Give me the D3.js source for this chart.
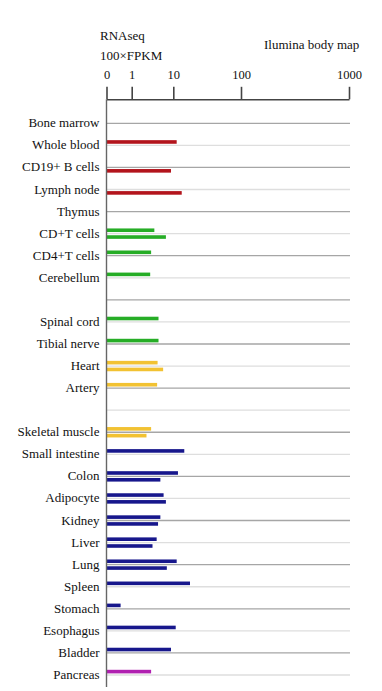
<!DOCTYPE html>
<html><head><meta charset="utf-8">
<script src="https://cdn.jsdelivr.net/npm/d3@7"></script>
<style>body{margin:0;background:#fff}svg{display:block}svg text{font-family:"Liberation Serif","Times New Roman",Times,serif}</style>
</head><body>
<script>
const tissues = ["Bone marrow","Whole blood","CD19+ B cells","Lymph node","Thymus","CD+T cells","CD4+T cells","Cerebellum","",
  "Spinal cord","Tibial nerve","Heart","Artery","","Skeletal muscle","Small intestine","Colon","Adipocyte","Kidney",
  "Liver","Lung","Spleen","Stomach","Esophagus","Bladder","Pancreas"];
// upper bar of each row (above the gridline)
const valuesA = [null,14.5,null,null,null,5.9,5.2,5.0,null,6.8,6.8,6.6,6.5,null,5.2,24.6,16.2,7.9,7.2,6.4,14.5,32.2,0.56,13.2,9.5,5.2];
// lower bar of each row (below the gridline)
const valuesB = [null,null,9.5,21.2,null,8.4,null,null,null,null,null,7.8,null,null,4.2,null,7.2,8.4,6.7,5.5,8.6,null,null,null,null,null];
const groups = ["blood","blood","blood","blood","blood","brain","brain","brain","none","brain","brain","muscle","muscle","none","muscle",
  "gut","gut","gut","gut","gut","gut","gut","gut","gut","gut","pancreas"];
const groupColors = {blood:"#b3141c",brain:"#26ad26",muscle:"#f2c232",gut:"#17178c",pancreas:"#b020b0",none:"#000"};
const tickValues = [0,1,10,100,1000];

const W = 382, H = 691;
const svg = d3.select("body").append("svg").attr("width",W).attr("height",H);

const x = d3.scaleLinear().domain(tickValues).range([106.5,131.7,173.3,241,349]);
const y = d3.scalePoint().domain(d3.range(tissues.length)).range([123.3,675]);

// gridlines
svg.append("g").selectAll("line").data(tissues).join("line")
  .attr("x1",x(0)).attr("x2",350)
  .attr("y1",(d,i)=>y(i)).attr("y2",(d,i)=>y(i))
  .attr("stroke",(d,i)=> i%2===0 ? "#a6a6a6" : "#dedede")
  .attr("stroke-width",1.3);

// bars
const barH = 3.6, off = 3.4;
const barsA = tissues.map((t,i)=>({i,v:valuesA[i]})).filter(d=>d.v!=null);
const barsB = tissues.map((t,i)=>({i,v:valuesB[i]})).filter(d=>d.v!=null);
svg.append("g").selectAll("rect").data(barsA).join("rect")
  .attr("x",x(0)).attr("width",d=>x(d.v)-x(0))
  .attr("y",d=>y(d.i)-off-barH/2).attr("height",barH)
  .attr("fill",d=>groupColors[groups[d.i]]);
svg.append("g").selectAll("rect").data(barsB).join("rect")
  .attr("x",x(0)).attr("width",d=>x(d.v)-x(0))
  .attr("y",d=>y(d.i)+off-barH/2).attr("height",barH)
  .attr("fill",d=>groupColors[groups[d.i]]);

// labels
svg.append("g").selectAll("text").data(tissues).join("text")
  .attr("x",99.5).attr("y",(d,i)=>y(i)+4)
  .attr("text-anchor","end").attr("font-size",13)
  .attr("fill","#111").text(d=>d);

// top axis
const axis = d3.axisTop(x).tickValues(tickValues).tickFormat(d=>String(d))
  .tickSize(12.5).tickSizeOuter(0).tickPadding(8);
const ag = svg.append("g").attr("transform","translate(0,99.3)").call(axis);
ag.attr("font-family",null);
ag.select(".domain").attr("stroke","#444").attr("stroke-width",1.6);
ag.selectAll(".tick line").attr("stroke","#444").attr("stroke-width",1.6);
ag.selectAll(".tick text").attr("font-size",12.5).attr("fill","#111");

// vertical axis line
svg.append("line").attr("x1",x(0)).attr("x2",x(0)).attr("y1",99.3).attr("y2",687)
  .attr("stroke","#666").attr("stroke-width",1.4);

// titles
svg.append("text").attr("x",100).attr("y",39.5).attr("font-size",13).attr("fill","#111").text("RNAseq");
svg.append("text").attr("x",100).attr("y",59.5).attr("font-size",13).attr("fill","#111").text("100×FPKM");
svg.append("text").attr("x",264).attr("y",48.5).attr("font-size",13).attr("fill","#111").text("Ilumina body map");
</script>
</body></html>
